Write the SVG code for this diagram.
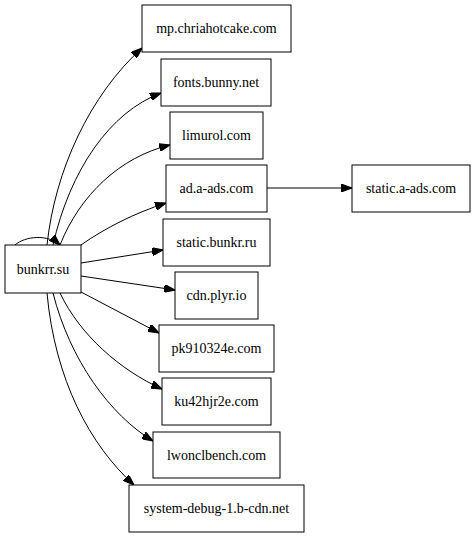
<svg xmlns="http://www.w3.org/2000/svg" width="476" height="539" viewBox="0 0 476 539">
<style>
.n rect{fill:#fff;stroke:#000;stroke-width:1}
.n text{font-family:'Liberation Serif','DejaVu Serif','Noto Serif',serif;font-size:14px;text-anchor:middle;fill:#000}
#edges path{fill:none;stroke:#000;stroke-width:1;marker-end:url(#ah)}
</style>
<defs>
<marker id="ah" viewBox="0 0 10 7" refX="10" refY="3.5" markerWidth="11" markerHeight="8" markerUnits="userSpaceOnUse" orient="auto" preserveAspectRatio="none">
<path d="M0,0 L10,3.5 L0,7 z" fill="#000" stroke="#000"/>
</marker>
</defs>
<rect width="476" height="539" fill="#fff"/>
<g id="edges">
<path d="M47,245 C55,170 90,95 142,48"/>
<path d="M53,245 C70,170 110,112 161,93"/>
<path d="M60,245 C80,195 120,157 170,145"/>
<path d="M81,245 C105,228 135,213 166,203"/>
<path d="M81,263 L163,250"/>
<path d="M81,276 L175,290"/>
<path d="M81,292 L159,333"/>
<path d="M60,293 C80,335 120,370 162,389"/>
<path d="M53,293 C70,360 110,415 153,441"/>
<path d="M47,293 C55,380 90,445 134,485"/>
<path d="M15,245 C25,236 48,234 60,245"/>
<path d="M267,188 L352,188"/>
</g>
<g id="bunkrr.su" class="n"><rect x="5" y="245" width="76" height="48"/><text x="43" y="274">bunkrr.su</text></g>
<g id="mp.chriahotcake.com" class="n"><rect x="142" y="5" width="149" height="47"/><text x="216.5" y="33">mp.chriahotcake.com</text></g>
<g id="fonts.bunny.net" class="n"><rect x="161" y="59" width="110" height="47"/><text x="216" y="87">fonts.bunny.net</text></g>
<g id="limurol.com" class="n"><rect x="170" y="112" width="93" height="47"/><text x="216.5" y="140">limurol.com</text></g>
<g id="ad.a-ads.com" class="n"><rect x="166" y="165" width="101" height="47"/><text x="216.5" y="193">ad.a-ads.com</text></g>
<g id="static.a-ads.com" class="n"><rect x="352" y="165" width="118" height="47"/><text x="411" y="193">static.a-ads.com</text></g>
<g id="static.bunkr.ru" class="n"><rect x="163" y="219" width="107" height="47"/><text x="216.5" y="247">static.bunkr.ru</text></g>
<g id="cdn.plyr.io" class="n"><rect x="175" y="272" width="83" height="47"/><text x="216.5" y="300">cdn.plyr.io</text></g>
<g id="pk910324e.com" class="n"><rect x="159" y="325" width="115" height="47"/><text x="216.5" y="353">pk910324e.com</text></g>
<g id="ku42hjr2e.com" class="n"><rect x="162" y="378" width="109" height="47"/><text x="216.5" y="406">ku42hjr2e.com</text></g>
<g id="lwonclbench.com" class="n"><rect x="153" y="432" width="127" height="46"/><text x="216.5" y="460">lwonclbench.com</text></g>
<g id="system-debug-1.b-cdn.net" class="n"><rect x="129" y="485" width="175" height="47"/><text x="216.5" y="513">system-debug-1.b-cdn.net</text></g>
</svg>
